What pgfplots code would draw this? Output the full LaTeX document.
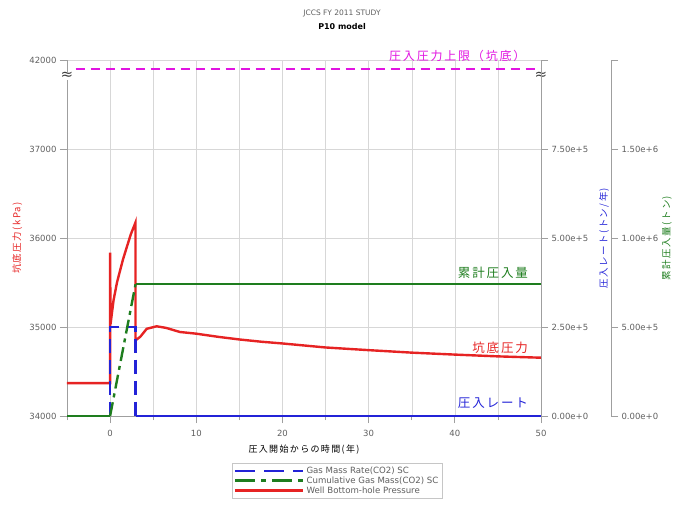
\documentclass[border=0pt]{standalone}
\usepackage{pgfplots}
\pgfplotsset{compat=1.18}
\usepackage{fontspec}
\setmainfont{DejaVu Sans}
\newfontfamily\jp[LetterSpace=15]{Noto Sans CJK JP}
\newfontfamily\dv{DejaVu Sans}
\definecolor{cred}{RGB}{230,35,35}
\definecolor{cblue}{RGB}{35,35,215}
\definecolor{cgreen}{RGB}{30,125,30}
\definecolor{cmag}{RGB}{225,20,225}
\definecolor{ctick}{RGB}{95,95,95}
\definecolor{cgrid}{RGB}{215,215,215}
\pgfplotsset{
 base/.style={width=474pt,height=356pt,scale only axis,xmin=-5,xmax=50,
   /pgf/number format/assume math mode=true,
   tick label style={font=\fontsize{8.5}{9}\selectfont, color=ctick},
   axis line style={color=gray!75, line width=0.8pt},
   tick style={color=gray!75, line width=0.8pt},
   tick align=outside, major tick length=7pt, minor tick length=4pt,
   scaled y ticks=false,
 }
}
\begin{document}
\begin{tikzpicture}
\useasboundingbox (-67pt,-90pt) rectangle (609pt,416pt);
\node[font=\fontsize{7.5}{8}\selectfont, text=ctick] at (275pt,403pt) {JCCS FY 2011 STUDY};
\node[font=\bfseries\fontsize{8}{9}\selectfont] at (275pt,389pt) {P10 model};
% main pressure axis
\begin{axis}[base, ymin=34000, ymax=38000,
  ytick={34000,35000,36000,37000,38000},
  yticklabels={34000,35000,36000,37000,42000},
  xtick={0,10,...,50}, minor xtick={-5,5,...,45},
  xticklabel style={yshift=-4pt},
  grid=both, major grid style={cgrid}, minor grid style={cgrid},
  axis x line*=bottom, axis y line*=left, clip=false,
  xlabel={\jp 圧入開始からの時間(年)},
  xlabel style={at={(axis description cs:0.5,-0.093)}, anchor=center, font=\fontsize{9}{10}\selectfont},
  ylabel={\jp 坑底圧力(kPa)},
  ylabel style={at={(axis description cs:-0.105,0.5)}, anchor=center, rotate=0, text=cred, font=\fontsize{9.5}{10}\selectfont},
  legend style={at={(axis description cs:0.348,-0.131)}, anchor=north west, draw=gray!45,
    font=\fontsize{8.6}{9}\selectfont, text=ctick, cells={anchor=west}, inner sep=2pt, row sep=-2.2pt},
  legend image code/.code={\draw[#1] (0pt,0pt) -- (68pt,0pt);},
]
\addlegendimage{cblue, line width=2.4pt, dash pattern=on 20pt off 9pt}
\addlegendentry{Gas Mass Rate(CO2) SC}
\addlegendimage{cgreen, line width=2.4pt, dash pattern=on 20pt off 6pt on 5pt off 6pt}
\addlegendentry{Cumulative Gas Mass(CO2) SC}
\addplot[cred, line width=2.4pt] coordinates {
(-5,34370)(0,34370)(0,35835)(0.05,35030)(0.4,35300)(0.8,35500)(1.16,35635)(1.5,35760)(1.93,35895)(2.4,36040)(2.95,36175)
(2.95,34850)(3.5,34890)(4.25,34980)(5.4,35008)(6.5,34990)(8.1,34944)(10,34925)(12.5,34890)(15,34860)(17.5,34835)(20,34815)
(25,34770)(30,34740)(35,34712)(40,34690)(45,34670)(50,34655)};
\addlegendentry{Well Bottom-hole Pressure}
\addplot[cmag, line width=1.6pt, dash pattern=on 9pt off 6pt, forget plot] coordinates {(-4,37900)(50,37900)};
\node[anchor=east, text=cgreen, font=\jp\fontsize{12.5}{13}\selectfont] at (axis cs:48.9,35612) {累計圧入量};
\node[anchor=east, text=cred, font=\jp\fontsize{12.5}{13}\selectfont] at (axis cs:48.9,34761) {坑底圧力};
\node[anchor=east, text=cblue, font=\jp\fontsize{12.5}{13}\selectfont] at (axis cs:48.9,34146) {圧入レート};
\node[anchor=east, text=cmag, font=\jp\fontsize{12}{12}\selectfont] at (axis cs:48.6,38043) {圧入圧力上限（坑底）};
\node[fill=white, inner sep=0.3pt, font=\dv\fontsize{15}{15}\selectfont, text=black!75] at (rel axis cs:0,0.955) {≈};
\node[fill=white, inner sep=0.3pt, font=\dv\fontsize{15}{15}\selectfont, text=black!75] at (rel axis cs:1,0.955) {≈};
\end{axis}
% rate axis
\begin{axis}[base, ymin=0, ymax=1000000, axis x line=none, axis y line*=right,
  ytick={0,250000,500000,750000,1000000},
  yticklabels={0.00e+0,2.50e+5,5.00e+5,7.50e+5,{}},
  ylabel={\jp 圧入レート(トン/年)},
  ylabel style={at={(axis description cs:1.133,0.5)}, anchor=center, rotate=0, text=cblue, font=\fontsize{9.5}{10}\selectfont},
]
\addplot[cblue, line width=2pt] coordinates {(-5,0)(0,0)};
\addplot[cblue, line width=2.4pt, dash pattern=on 14pt off 7pt] coordinates {(0,0)(0,250000)(2.95,250000)(2.95,0)};
\addplot[cblue, line width=2pt] coordinates {(2.95,0)(50,0)};
\end{axis}
% cumulative data axis
\begin{axis}[base, ymin=0, ymax=2000000, hide axis]
\addplot[cgreen, line width=1.6pt] coordinates {(-5,0)(0,0)};
\addplot[cgreen, line width=2.4pt, dash pattern=on 14pt off 5pt on 4pt off 5pt] coordinates {(0,0)(2.95,740000)};
\addplot[cgreen, line width=2.2pt] coordinates {(2.95,740000)(50,740000)};
\end{axis}
% cumulative tick axis
\begin{axis}[base, at={(70pt,0pt)}, ymin=0, ymax=2000000, axis x line=none, axis y line*=right,
  ytick={0,500000,1000000,1500000,2000000},
  yticklabels={0.00e+0,5.00e+5,1.00e+6,1.50e+6,{}},
  ylabel={\jp 累計圧入量(トン)},
  ylabel style={at={(axis description cs:1.118,0.5)}, anchor=center, rotate=0, text=cgreen, font=\fontsize{9.5}{10}\selectfont},
]
\end{axis}
\end{tikzpicture}
\end{document}
